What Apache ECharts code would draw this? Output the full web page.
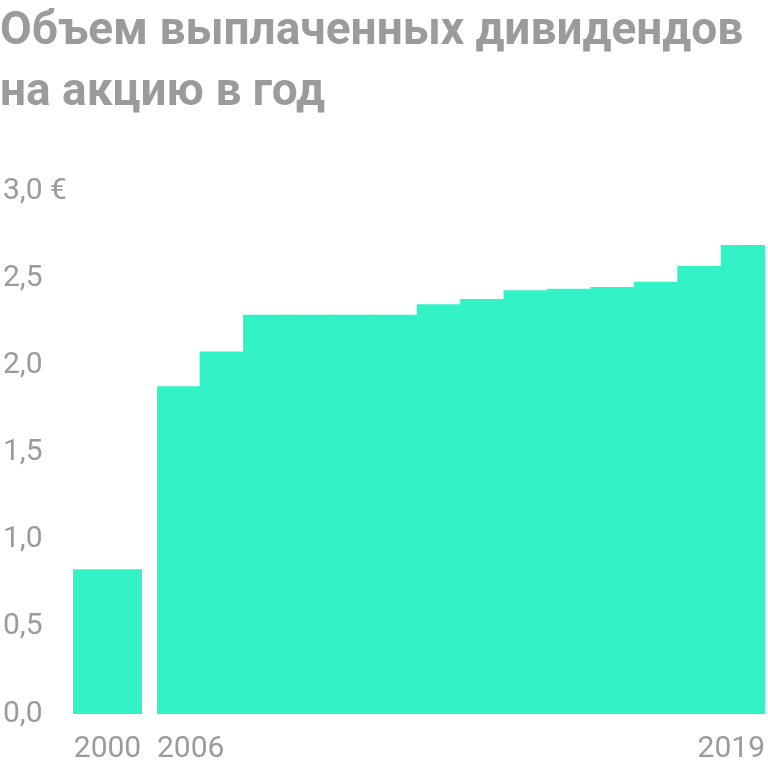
<!DOCTYPE html>
<html>
<head>
<meta charset="utf-8">
<style>
  html, body { margin: 0; padding: 0; background: #fff; }
  #chart { width: 768px; height: 768px; }
</style>
<script src="https://cdn.jsdelivr.net/npm/echarts@6/dist/echarts.min.js"></script>
</head>
<body>
<div id="chart"></div>
<script>
// данные
const earlyYears = ['2000']
const earlyValues = [0.83]
const years = ['2006', '2007', '2008', '2009', '2010', '2011', '2012',
  '2013', '2014', '2015', '2016', '2017', '2018', '2019']
const values = [1.88, 2.08, 2.29, 2.29, 2.29, 2.29, 2.35,
  2.38, 2.43, 2.44, 2.45, 2.48, 2.57, 2.69]
const yTicks = [0, 0.5, 1, 1.5, 2, 2.5, 3]

const gray = '#9b9b9b'
const barColor = '#33f3c6'
const font = 'Roboto'

const fmtY = (v) => {
  const s = v.toFixed(1).replace('.', ',')
  return v === yTicks[yTicks.length - 1] ? s + ' €' : s
}

const labelStyle = { fontSize: 30, color: gray, fontFamily: font }

const yBase = {
  type: 'value',
  min: yTicks[0],
  max: yTicks[yTicks.length - 1],
  interval: 0.5,
  splitLine: { show: false },
  axisLine: { show: false },
  axisTick: { show: false },
}

const option = {
  animation: false,
  title: {
    text: 'Объем выплаченных дивидендов\nна акцию в год',
    left: 0,
    top: 2,
    padding: 0,
    textStyle: {
      fontFamily: font,
      fontWeight: 'bold',
      fontSize: 46,
      lineHeight: 61,
      color: gray,
    },
  },
  grid: [
    { left: 72, width: 70, top: 191, bottom: 54 },
    { left: 157, right: 0, top: 191, bottom: 54 },
  ],
  xAxis: [
    {
      type: 'category',
      gridIndex: 0,
      position: 'bottom',
      data: earlyYears,
      axisLine: { show: false },
      axisTick: { show: false },
      axisLabel: { margin: 20, ...labelStyle },
    },
    {
      type: 'category',
      gridIndex: 1,
      position: 'bottom',
      data: years,
      axisLine: { show: false },
      axisTick: { show: false },
      axisLabel: { show: false },
    },
    {
      // подписи по краям второй группы
      type: 'value',
      gridIndex: 1,
      position: 'bottom',
      min: 0,
      max: years.length,
      interval: years.length,
      splitLine: { show: false },
      axisLine: { show: false },
      axisTick: { show: false },
      axisLabel: {
        margin: 20,
        ...labelStyle,
        alignMinLabel: 'left',
        alignMaxLabel: 'right',
        formatter: (v) => (v === 0 ? years[0] : years[years.length - 1]),
      },
    },
  ],
  yAxis: [
    {
      ...yBase,
      gridIndex: 0,
      axisLabel: {
        margin: 70,
        align: 'left',
        ...labelStyle,
        formatter: fmtY,
      },
    },
    { ...yBase, gridIndex: 1, axisLabel: { show: false } },
  ],
  series: [
    {
      type: 'bar',
      xAxisIndex: 0,
      yAxisIndex: 0,
      data: earlyValues,
      barWidth: '100%',
      itemStyle: { color: barColor },
    },
    {
      type: 'bar',
      xAxisIndex: 1,
      yAxisIndex: 1,
      data: values,
      // чуть шире полосы, чтобы не было швов между столбиками
      barWidth: '104%',
      itemStyle: { color: barColor },
    },
  ],
}

const myChart = echarts.init(document.getElementById('chart'))
myChart.setOption(option)
</script>
</body>
</html>
